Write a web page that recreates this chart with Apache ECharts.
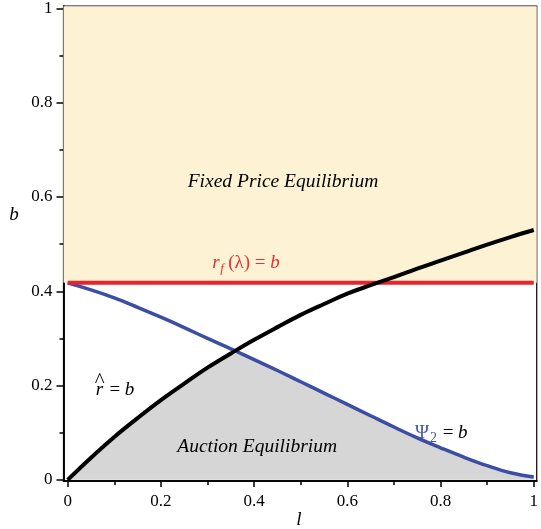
<!DOCTYPE html>
<html>
<head>
<meta charset="utf-8">
<script src="https://cdn.jsdelivr.net/npm/echarts@6/dist/echarts.min.js"></script>
<style>
html,body{margin:0;padding:0;background:#fff}
#main{width:541px;height:529px}
</style>
</head>
<body>
<div id="main"></div>
<script>
// data (l on a 0.05 grid)
var lGrid = [0, 0.05, 0.1, 0.15, 0.2, 0.25, 0.3, 0.35, 0.4, 0.45, 0.5,
             0.55, 0.6, 0.65, 0.7, 0.75, 0.8, 0.85, 0.9, 0.95, 1.0];
var psiB  = [0.418, 0.403, 0.386, 0.366, 0.345, 0.323, 0.300, 0.278, 0.255, 0.232, 0.208,
             0.184, 0.160, 0.136, 0.112, 0.089, 0.068, 0.048, 0.030, 0.015, 0.006];
var rhatB = [0, 0.047, 0.091, 0.131, 0.169, 0.204, 0.238, 0.268, 0.297, 0.324, 0.350,
             0.373, 0.395, 0.413, 0.430, 0.448, 0.465, 0.482, 0.499, 0.515, 0.530];
var rfLevel = 0.418;
var majorTicks = [0, 0.2, 0.4, 0.6, 0.8, 1];
var minorTicks = [0.1, 0.3, 0.5, 0.7, 0.9];

var xMin = -0.009, xMax = 1.0064, yMin = -0.0025, yMax = 1.005;
var serif = 'Liberation Serif';

var psiData = lGrid.map(function (l, i) { return [l, psiB[i]]; });
var rhatData = lGrid.map(function (l, i) { return [l, rhatB[i]]; });
// lower envelope of the two curves = top of the auction region
var envData = lGrid.map(function (l, i) { return [l, Math.min(psiB[i], rhatB[i])]; });

var makeAxis = function (dim, ticks, len, showLabel) {
    return {
        type: 'value',
        min: dim == 'x' ? xMin : yMin,
        max: dim == 'x' ? xMax : yMax,
        position: dim == 'x' ? 'bottom' : 'left',
        axisLine: {show: true, onZero: false, lineStyle: {color: '#000', width: 1.5}},
        axisTick: {show: true, length: len, customValues: ticks, lineStyle: {color: '#000', width: 1.5}},
        axisLabel: {
            show: showLabel, customValues: majorTicks,
            fontFamily: serif, fontSize: 17, color: '#000',
            margin: dim == 'x' ? 12 : 11
        },
        splitLine: {show: false}
    };
};

var chart = echarts.init(document.getElementById('main'));
chart.setOption({
    animation: false,
    grid: {left: 63.5, right: 4, top: 4, bottom: 48, show: true, borderColor: '#000', borderWidth: 1.2},
    xAxis: [makeAxis('x', majorTicks, 6, true), makeAxis('x', minorTicks, 4, false)],
    yAxis: [makeAxis('y', majorTicks, 7, true), makeAxis('y', minorTicks, 4, false)],
    series: [
        {
            name: 'auction', type: 'line', data: envData, symbol: 'none',
            smooth: 0.4, z: 1,
            lineStyle: {width: 0}, areaStyle: {color: '#d6d6d6', opacity: 1, origin: 0}
        },
        {
            name: 'rf', type: 'line', data: [[0, rfLevel], [1, rfLevel]], symbol: 'none', z: 4,
            lineStyle: {color: '#e8232b', width: 4},
            markArea: {
                silent: true,
                itemStyle: {color: '#fdf2d3'},
                data: [[{coord: [xMin, rfLevel]}, {coord: [xMax, yMax]}]]
            }
        },
        {
            name: 'psi', type: 'line', data: psiData, symbol: 'none',
            smooth: 0.4, z: 3,
            lineStyle: {color: '#3b4ea3', width: 3.5}
        },
        {
            name: 'rhat', type: 'line', data: rhatData, symbol: 'none',
            smooth: 0.4, z: 5,
            lineStyle: {color: '#000', width: 4}
        }
    ]
});

// annotations, placed from data coords
var px = function (l, b) { return chart.convertToPixel({xAxisIndex: 0, yAxisIndex: 0}, [l, b]); };
var txt = function (x, y, s, opt) {
    var st = {
        text: s, x: x, y: y, fill: opt.color || '#000',
        font: (opt.italic ? 'italic ' : '') + (opt.size || 19) + 'px "' + serif + '"',
        align: opt.align || 'left', verticalAlign: 'middle'
    };
    if (opt.rich) st.rich = opt.rich;
    return {type: 'text', silent: true, z: 100, style: st};
};

var pFixed = px(0.462, 0.633);
var pAuct = px(0.235, 0.069);
var pRf = px(0.31, 0.46);
var pRhat = px(0.06, 0.19);
var pPsi = px(0.745, 0.1);
var red = '#e2323a', blue = '#4656a8';

chart.setOption({
    graphic: [
        txt(pFixed[0], pFixed[1], 'Fixed Price Equilibrium', {italic: true, align: 'center', size: 19.5}),
        txt(pAuct[0], pAuct[1], 'Auction Equilibrium', {italic: true, size: 19.5}),
        // r_f(λ) = b
        txt(pRf[0], pRf[1], 'r', {italic: true, color: red}),
        txt(pRf[0] + 8, pRf[1] + 6, 'f', {italic: true, color: red, size: 13}),
        txt(pRf[0] + 16, pRf[1], '{n|(λ) = }{i|b}', {color: red, rich: {
            n: {fontFamily: serif, fontSize: 19, color: red},
            i: {fontFamily: serif, fontSize: 19, fontStyle: 'italic', color: red}}}),
        // r-hat = b
        txt(pRhat[0], pRhat[1], 'r', {italic: true}),
        txt(pRhat[0] - 1, pRhat[1] - 9, '^', {size: 21}),
        txt(pRhat[0] + 9, pRhat[1], '{n| = }{i|b}', {rich: {
            n: {fontFamily: serif, fontSize: 19, color: '#000'},
            i: {fontFamily: serif, fontSize: 19, fontStyle: 'italic', color: '#000'}}}),
        // Psi_2 = b
        txt(pPsi[0], pPsi[1], 'Ψ', {color: blue}),
        txt(pPsi[0] + 15, pPsi[1] + 6, '2', {color: blue, size: 14}),
        txt(pPsi[0] + 23, pPsi[1], '{n| = }{i|b}', {rich: {
            n: {fontFamily: serif, fontSize: 19, color: blue},
            i: {fontFamily: serif, fontSize: 19, fontStyle: 'italic', color: blue}}}),
        // axis names
        txt(14, 215, 'b', {italic: true, align: 'center'}),
        txt(299, 520, 'l', {italic: true, align: 'center'})
    ]
});
</script>
</body>
</html>
